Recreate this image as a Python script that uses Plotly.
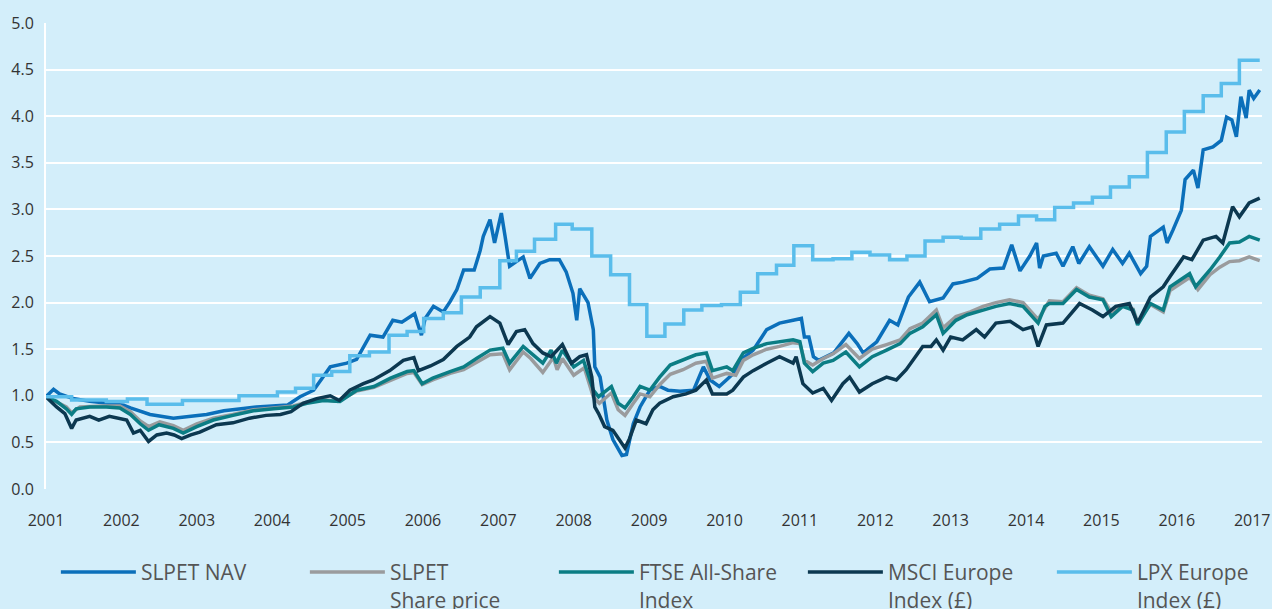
import plotly.graph_objects as go

# ---------------- data (decimal years, index value) ----------------
nav_x = [2001.00, 2001.05, 2001.10, 2001.18, 2001.36, 2001.58, 2001.80, 2002.03, 2002.12, 2002.38,
         2002.69, 2002.90, 2003.13, 2003.36, 2003.57, 2003.79, 2004.00, 2004.20, 2004.24, 2004.37,
         2004.55, 2004.77, 2004.99, 2005.12, 2005.30, 2005.47, 2005.60, 2005.72, 2005.89, 2005.98,
         2006.03, 2006.14, 2006.27, 2006.36, 2006.45, 2006.54, 2006.68, 2006.76, 2006.80, 2006.89,
         2006.95, 2007.04, 2007.09, 2007.15, 2007.33, 2007.42, 2007.55, 2007.68, 2007.81, 2007.90,
         2007.99, 2008.04, 2008.08, 2008.19, 2008.26, 2008.28, 2008.35, 2008.44, 2008.52, 2008.64,
         2008.70, 2008.79, 2008.88, 2009.01, 2009.14, 2009.25, 2009.41, 2009.59, 2009.72, 2009.81,
         2009.93, 2010.12, 2010.21, 2010.38, 2010.56, 2010.73, 2010.91, 2011.02, 2011.06, 2011.12,
         2011.18, 2011.25, 2011.45, 2011.65, 2011.76, 2011.84, 2012.02, 2012.19, 2012.30, 2012.44,
         2012.59, 2012.72, 2012.90, 2013.03, 2013.16, 2013.35, 2013.52, 2013.70, 2013.81, 2013.92,
         2014.05, 2014.14, 2014.18, 2014.23, 2014.40, 2014.49, 2014.62, 2014.70, 2014.84, 2015.02,
         2015.15, 2015.28, 2015.37, 2015.46, 2015.52, 2015.60, 2015.65, 2015.82, 2015.87, 2015.95,
         2016.06, 2016.11, 2016.22, 2016.28, 2016.35, 2016.48, 2016.59, 2016.66, 2016.73, 2016.79,
         2016.85, 2016.92, 2016.96, 2017.02, 2017.10]
nav_y = [0.99, 1.03, 1.07, 1.02, 0.97, 0.94, 0.92, 0.90, 0.87, 0.80,
         0.76, 0.78, 0.80, 0.84, 0.86, 0.88, 0.89, 0.90, 0.92, 0.99,
         1.06, 1.31, 1.35, 1.39, 1.65, 1.63, 1.81, 1.79, 1.88, 1.65,
         1.83, 1.96, 1.90, 2.01, 2.14, 2.35, 2.35, 2.56, 2.71, 2.89,
         2.64, 2.96, 2.71, 2.39, 2.49, 2.26, 2.42, 2.46, 2.46, 2.33,
         2.10, 1.81, 2.15, 2.00, 1.71, 1.31, 1.20, 0.74, 0.53, 0.36,
         0.37, 0.70, 0.88, 1.06, 1.10, 1.06, 1.05, 1.06, 1.31, 1.17,
         1.10, 1.24, 1.38, 1.49, 1.71, 1.78, 1.81, 1.83, 1.63, 1.63,
         1.42, 1.38, 1.46, 1.67, 1.56, 1.46, 1.58, 1.81, 1.76, 2.06,
         2.22, 2.01, 2.05, 2.20, 2.22, 2.26, 2.36, 2.37, 2.62, 2.34,
         2.50, 2.64, 2.37, 2.50, 2.53, 2.39, 2.60, 2.42, 2.60, 2.39,
         2.57, 2.42, 2.53, 2.39, 2.31, 2.39, 2.71, 2.81, 2.64, 2.78,
         2.99, 3.32, 3.42, 3.23, 3.64, 3.67, 3.74, 3.99, 3.96, 3.78,
         4.21, 3.98, 4.28, 4.19, 4.28]

share_x = [2001.00, 2001.14, 2001.27, 2001.34, 2001.45, 2001.75, 2001.98, 2002.12, 2002.25, 2002.36,
           2002.51, 2002.69, 2002.82, 2003.00, 2003.22, 2003.48, 2003.75, 2004.02, 2004.28, 2004.46,
           2004.68, 2004.87, 2005.12, 2005.35, 2005.57, 2005.79, 2005.88, 2005.99, 2006.13, 2006.36,
           2006.54, 2006.71, 2006.89, 2007.06, 2007.15, 2007.33, 2007.43, 2007.59, 2007.73, 2007.78,
           2007.85, 2008.00, 2008.14, 2008.26, 2008.34, 2008.44, 2008.50, 2008.59, 2008.68, 2008.79,
           2008.88, 2009.01, 2009.14, 2009.28, 2009.45, 2009.62, 2009.76, 2009.84, 2010.03, 2010.15,
           2010.25, 2010.38, 2010.56, 2010.73, 2010.91, 2011.00, 2011.06, 2011.17, 2011.31, 2011.44,
           2011.61, 2011.79, 2011.96, 2012.15, 2012.33, 2012.46, 2012.63, 2012.81, 2012.90, 2013.07,
           2013.26, 2013.43, 2013.60, 2013.78, 2013.96, 2014.16, 2014.27, 2014.31, 2014.49, 2014.67,
           2014.84, 2015.02, 2015.13, 2015.28, 2015.42, 2015.48, 2015.65, 2015.82, 2015.91, 2016.04,
           2016.17, 2016.28, 2016.44, 2016.57, 2016.70, 2016.83, 2016.96, 2017.10]
share_y = [0.99, 0.93, 0.88, 0.82, 0.88, 0.89, 0.89, 0.83, 0.73, 0.67,
           0.72, 0.68, 0.63, 0.70, 0.76, 0.80, 0.85, 0.87, 0.89, 0.93,
           0.96, 0.94, 1.05, 1.09, 1.17, 1.24, 1.25, 1.12, 1.17, 1.24,
           1.28, 1.36, 1.44, 1.45, 1.28, 1.47, 1.40, 1.25, 1.41, 1.28,
           1.40, 1.22, 1.30, 0.99, 0.92, 0.99, 1.03, 0.85, 0.79, 0.92,
           1.02, 0.99, 1.12, 1.23, 1.28, 1.35, 1.37, 1.19, 1.24, 1.22,
           1.38, 1.44, 1.50, 1.53, 1.57, 1.56, 1.38, 1.33, 1.40, 1.45,
           1.55, 1.40, 1.50, 1.55, 1.60, 1.72, 1.78, 1.92, 1.73, 1.85,
           1.90, 1.96, 2.00, 2.03, 2.00, 1.82, 1.98, 2.02, 2.01, 2.16,
           2.08, 2.04, 1.90, 1.97, 1.93, 1.79, 1.98, 1.90, 2.13, 2.20,
           2.27, 2.14, 2.30, 2.38, 2.44, 2.45, 2.49, 2.45]

ftse_x = [2001.00, 2001.14, 2001.27, 2001.34, 2001.40, 2001.58, 2001.80, 2001.98, 2002.12, 2002.25,
          2002.36, 2002.50, 2002.69, 2002.82, 2003.00, 2003.22, 2003.48, 2003.75, 2004.02, 2004.28,
          2004.46, 2004.68, 2004.90, 2005.12, 2005.35, 2005.57, 2005.79, 2005.88, 2005.99, 2006.13,
          2006.36, 2006.54, 2006.71, 2006.89, 2007.06, 2007.15, 2007.33, 2007.43, 2007.59, 2007.70,
          2007.77, 2007.85, 2008.00, 2008.13, 2008.26, 2008.33, 2008.43, 2008.50, 2008.59, 2008.68,
          2008.79, 2008.88, 2009.01, 2009.14, 2009.28, 2009.45, 2009.62, 2009.76, 2009.84, 2010.03,
          2010.11, 2010.25, 2010.38, 2010.56, 2010.73, 2010.91, 2011.00, 2011.06, 2011.17, 2011.31,
          2011.44, 2011.61, 2011.79, 2011.96, 2012.15, 2012.33, 2012.46, 2012.63, 2012.81, 2012.90,
          2013.07, 2013.22, 2013.43, 2013.60, 2013.78, 2013.96, 2014.16, 2014.25, 2014.31, 2014.49,
          2014.67, 2014.84, 2015.02, 2015.13, 2015.28, 2015.42, 2015.48, 2015.65, 2015.82, 2015.91,
          2016.04, 2016.17, 2016.25, 2016.44, 2016.57, 2016.70, 2016.83, 2016.96, 2017.10]
ftse_y = [0.99, 0.94, 0.86, 0.80, 0.86, 0.88, 0.88, 0.87, 0.80, 0.70,
          0.63, 0.69, 0.65, 0.60, 0.67, 0.74, 0.79, 0.84, 0.86, 0.88,
          0.92, 0.95, 0.94, 1.06, 1.10, 1.19, 1.26, 1.27, 1.13, 1.19,
          1.26, 1.31, 1.40, 1.49, 1.51, 1.35, 1.53, 1.46, 1.35, 1.49,
          1.35, 1.49, 1.31, 1.38, 1.06, 0.99, 1.06, 1.10, 0.92, 0.87,
          0.99, 1.10, 1.06, 1.20, 1.33, 1.38, 1.44, 1.46, 1.27, 1.31,
          1.27, 1.46, 1.51, 1.56, 1.58, 1.60, 1.58, 1.35, 1.26, 1.35,
          1.38, 1.47, 1.31, 1.42, 1.49, 1.56, 1.67, 1.74, 1.87, 1.67,
          1.81, 1.87, 1.92, 1.96, 1.99, 1.96, 1.78, 1.96, 1.99, 1.99,
          2.14, 2.06, 2.03, 1.85, 1.96, 1.92, 1.76, 1.99, 1.92, 2.17,
          2.24, 2.31, 2.17, 2.35, 2.49, 2.64, 2.65, 2.71, 2.67]

msci_x = [2001.00, 2001.14, 2001.25, 2001.34, 2001.40, 2001.58, 2001.70, 2001.84, 2002.07, 2002.16,
          2002.25, 2002.36, 2002.47, 2002.60, 2002.70, 2002.80, 2002.92, 2003.04, 2003.26, 2003.48,
          2003.70, 2003.92, 2004.11, 2004.25, 2004.41, 2004.59, 2004.77, 2004.89, 2005.03, 2005.21,
          2005.34, 2005.56, 2005.74, 2005.88, 2005.94, 2006.10, 2006.27, 2006.45, 2006.62, 2006.71,
          2006.89, 2007.02, 2007.13, 2007.24, 2007.35, 2007.46, 2007.59, 2007.70, 2007.85, 2007.97,
          2008.08, 2008.17, 2008.24, 2008.28, 2008.33, 2008.41, 2008.52, 2008.61, 2008.68, 2008.74,
          2008.83, 2008.96, 2009.05, 2009.14, 2009.32, 2009.49, 2009.62, 2009.76, 2009.84, 2010.03,
          2010.11, 2010.25, 2010.38, 2010.56, 2010.73, 2010.91, 2010.95, 2011.04, 2011.17, 2011.31,
          2011.42, 2011.57, 2011.66, 2011.79, 2011.96, 2012.15, 2012.28, 2012.41, 2012.54, 2012.63,
          2012.74, 2012.81, 2012.90, 2013.00, 2013.16, 2013.34, 2013.45, 2013.60, 2013.79, 2013.96,
          2014.08, 2014.16, 2014.27, 2014.49, 2014.71, 2014.88, 2015.02, 2015.19, 2015.37, 2015.48,
          2015.65, 2015.82, 2015.91, 2016.09, 2016.20, 2016.35, 2016.52, 2016.61, 2016.74, 2016.83,
          2016.96, 2017.10]
msci_y = [0.99, 0.88, 0.81, 0.65, 0.74, 0.78, 0.74, 0.78, 0.74, 0.60,
          0.63, 0.51, 0.58, 0.60, 0.58, 0.54, 0.58, 0.61, 0.69, 0.71,
          0.76, 0.79, 0.80, 0.83, 0.92, 0.97, 1.00, 0.95, 1.06, 1.13,
          1.17, 1.27, 1.38, 1.41, 1.27, 1.32, 1.39, 1.53, 1.63, 1.74,
          1.85, 1.78, 1.55, 1.69, 1.71, 1.56, 1.46, 1.42, 1.55, 1.35,
          1.42, 1.44, 1.20, 0.88, 0.81, 0.67, 0.63, 0.53, 0.44, 0.54,
          0.74, 0.70, 0.85, 0.92, 0.99, 1.02, 1.06, 1.17, 1.02, 1.02,
          1.06, 1.20, 1.27, 1.35, 1.42, 1.35, 1.42, 1.13, 1.03, 1.08,
          0.95, 1.13, 1.20, 1.04, 1.13, 1.20, 1.17, 1.28, 1.42, 1.53,
          1.53, 1.60, 1.49, 1.63, 1.60, 1.71, 1.63, 1.78, 1.80, 1.71,
          1.74, 1.53, 1.76, 1.78, 1.99, 1.92, 1.85, 1.96, 1.99, 1.78,
          2.06, 2.17, 2.28, 2.49, 2.46, 2.67, 2.71, 2.64, 3.03, 2.92,
          3.07, 3.12]

lpx_x = [2001.00, 2001.34, 2001.80, 2002.08, 2002.34, 2002.81, 2003.56, 2004.07, 2004.31, 2004.55,
         2004.79, 2005.03, 2005.29, 2005.55, 2005.79, 2006.01, 2006.27, 2006.51, 2006.76, 2007.02,
         2007.24, 2007.48, 2007.76, 2007.98, 2008.24, 2008.49, 2008.74, 2008.97, 2009.21, 2009.46,
         2009.70, 2009.96, 2010.21, 2010.44, 2010.69, 2010.92, 2011.17, 2011.44, 2011.69, 2011.93,
         2012.19, 2012.42, 2012.66, 2012.90, 2013.14, 2013.40, 2013.65, 2013.90, 2014.14, 2014.38,
         2014.63, 2014.88, 2015.12, 2015.37, 2015.61, 2015.86, 2016.10, 2016.35, 2016.59, 2016.83,
         2017.10]
lpx_y = [0.99, 0.955, 0.94, 0.965, 0.91, 0.95, 1.00, 1.04, 1.08, 1.22,
         1.26, 1.43, 1.47, 1.65, 1.69, 1.83, 1.89, 2.06, 2.16, 2.45,
         2.55, 2.68, 2.84, 2.79, 2.50, 2.30, 1.98, 1.64, 1.77, 1.92,
         1.97, 1.98, 2.11, 2.31, 2.40, 2.61, 2.46, 2.47, 2.54, 2.51,
         2.46, 2.50, 2.66, 2.70, 2.69, 2.79, 2.84, 2.93, 2.89, 3.02,
         3.07, 3.13, 3.24, 3.35, 3.61, 3.83, 4.05, 4.22, 4.35, 4.60,
         4.60]

year_ticks = list(range(2001, 2018))
y_ticks = [0.0, 0.5, 1.0, 1.5, 2.0, 2.5, 3.0, 3.5, 4.0, 4.5, 5.0]

series = [
    ("SLPET NAV", nav_x, nav_y, "#0b6fba", "linear"),
    ("SLPET<br>Share price", share_x, share_y, "#9a9b9d", "linear"),
    ("FTSE All-Share<br>Index", ftse_x, ftse_y, "#0b7d84", "linear"),
    ("MSCI Europe<br>Index (£)", msci_x, msci_y, "#0c3850", "linear"),
    ("LPX Europe<br>Index (£)", lpx_x, lpx_y, "#5abdeb", "hv"),
]

BG = "#d3eefa"
FONT = "Open Sans"
fig = go.Figure()
for name, xs, ys, col, shape in series:
    fig.add_trace(go.Scatter(x=xs, y=ys, mode="lines", name=name,
                             line=dict(color=col, width=3.5, shape=shape)))

fig.update_layout(
    width=1272, height=609,
    paper_bgcolor=BG, plot_bgcolor=BG,
    margin=dict(l=46, r=10, t=23, b=120, autoexpand=False),
    showlegend=True,
    legend=dict(orientation="h", x=-0.0001, xanchor="left", y=-0.135, yanchor="top",
                font=dict(family=FONT, size=21, color="#555555"),
                entrywidth=149, entrywidthmode="pixels", itemwidth=75, indentation=10,
                valign="top", bgcolor="rgba(0,0,0,0)", tracegroupgap=0),
    font=dict(family=FONT, size=16, color="#333333"),
)
fig.update_xaxes(range=[2001, 2017.13], tickmode="array", tickvals=year_ticks,
                 ticktext=[str(t) for t in year_ticks], showgrid=False, zeroline=False,
                 showline=False, ticks="", ticklabelstandoff=20,
                 tickfont=dict(family=FONT, size=16, color="#333333"))
fig.update_yaxes(range=[0, 5], tickmode="array", tickvals=y_ticks,
                 ticktext=[f"{v:.1f}" for v in y_ticks], showgrid=True, gridcolor="white",
                 gridwidth=2, zeroline=False, showline=True, linecolor="white", linewidth=2,
                 ticks="", ticklabelstandoff=7,
                 tickfont=dict(family=FONT, size=16, color="#333333"))

fig.write_html("out.html",
               config={"displayModeBar": False},
               post_script="document.body.style.margin='0px';"
                           "document.body.style.background='" + BG + "';"
                           "document.body.style.overflow='hidden';")
